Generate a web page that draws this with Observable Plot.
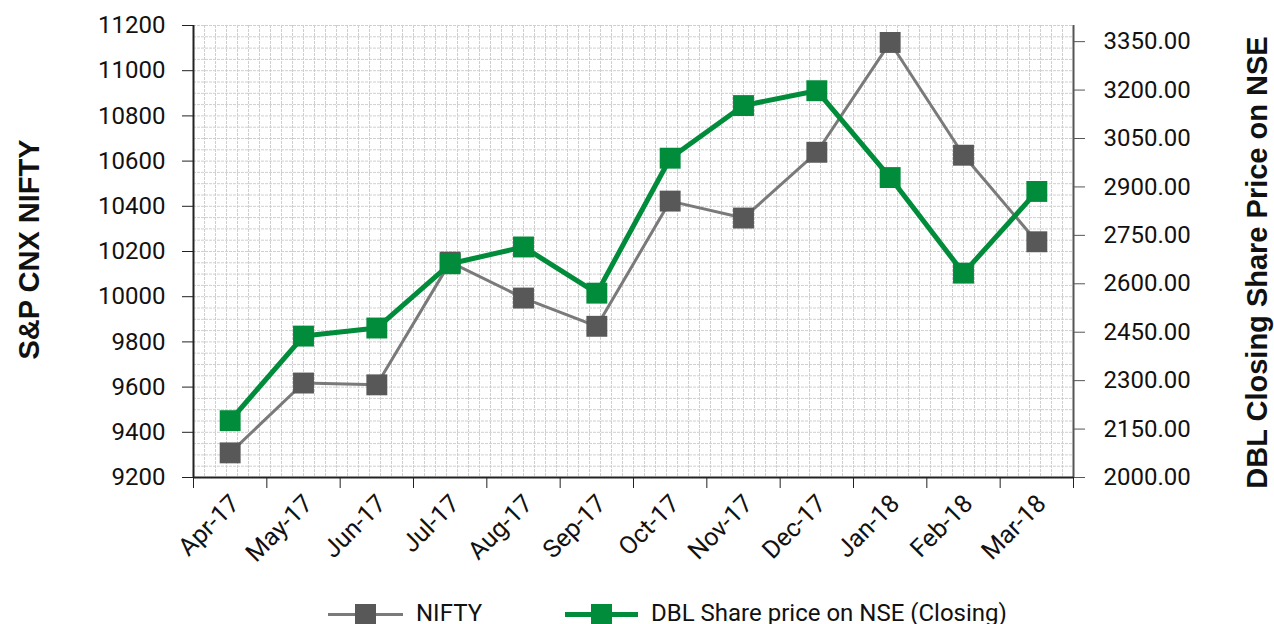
<!DOCTYPE html>
<html><head><meta charset="utf-8">
<script src="https://cdn.jsdelivr.net/npm/d3@7"></script>
<script src="https://cdn.jsdelivr.net/npm/@observablehq/plot@0.6"></script>
<style>
body{margin:0;background:#fff;font-family:Roboto,sans-serif;}
#wrap{width:1274px;height:624px;position:relative;overflow:hidden;}
#legend{position:relative;height:34px;font-size:24px;color:#111;}
.item{position:absolute;top:0;height:34px;}
.item svg{position:absolute;top:0;left:0;}
.item span{position:absolute;top:9px;line-height:28px;white-space:nowrap;}
</style></head>
<body><div id="wrap"><div id="chart"></div><div id="legend"></div></div>
<script>
const months = ["Apr-17","May-17","Jun-17","Jul-17","Aug-17","Sep-17","Oct-17","Nov-17","Dec-17","Jan-18","Feb-18","Mar-18"];
const nifty = [9309,9618,9610,10153,9994,9869,10423,10348,10639,11125,10626,10243];
const dbl = [2176,2438,2463,2662,2714,2571,2989,3152,3198,2929,2633,2886];
const niftyTicks = [9200,9400,9600,9800,10000,10200,10400,10600,10800,11000,11200];
const dblTicks = [2000,2150,2300,2450,2600,2750,2900,3050,3200,3350];
const seriesNames = ["NIFTY","DBL Share price on NSE (Closing)"];
const seriesColors = ["#585858","#008C3A"];
const lineColors = ["#7a7a7a","#008C3A"];

const niftyDomain = [9200, 11200];
const dblDomain = [2000, 3400];
const toLeft = v => niftyDomain[0] + (v - dblDomain[0]) * (niftyDomain[1]-niftyDomain[0])/(dblDomain[1]-dblDomain[0]);
const fromLeft = v => dblDomain[0] + (v - niftyDomain[0]) * (dblDomain[1]-dblDomain[0])/(niftyDomain[1]-niftyDomain[0]);

const niftyData = months.map((m,i)=>({x:i+0.5, y:nifty[i]}));
const dblData = months.map((m,i)=>({x:i+0.5, y:toLeft(dbl[i])}));

const gridXTicks = d3.range(0,81).map(i=>i*0.15);
const gridYTicks = d3.range(9200, 11201, 50);

const plot = Plot.plot({
  width: 1274, height: 590,
  marginLeft: 193, marginRight: 201, marginTop: 25, marginBottom: 113,
  style: {fontFamily: "Roboto, sans-serif", fontSize: "24px", color: "#111", background: "#fff"},
  x: {type: "linear", domain: [0, 12]},
  y: {domain: niftyDomain},
  marks: [
    Plot.gridX(gridXTicks, {stroke: "#cfcfcf", strokeOpacity: 1, strokeDasharray: "3,1"}),
    Plot.gridY(gridYTicks, {stroke: "#cfcfcf", strokeOpacity: 1, strokeDasharray: "3,1"}),
    Plot.axisY(niftyTicks, {anchor: "left", tickSize: 11, tickPadding: 17, label: null, stroke: "#222", fill: "#111", fontSize: 24,
      tickFormat: d => String(d)}),
    Plot.axisY(dblTicks.map(toLeft), {anchor: "right", tickSize: 11, tickPadding: 19, label: null, stroke: "#555", fill: "#111", fontSize: 24,
      tickFormat: d => Math.round(fromLeft(d)).toFixed(2)}),
    Plot.axisX(d3.range(0,13), {anchor: "bottom", tickSize: 11, tickFormat: () => "", label: null, stroke: "#222"}),
    Plot.axisX(months.map((m,i)=>i+0.5), {anchor: "bottom", tickSize: 0, tickPadding: 22, dx: 5, tickRotate: -45, label: null, fill: "#111", fontSize: 25,
      tickFormat: d => months[Math.round(d-0.5)]}),
    Plot.ruleX([0], {stroke: "#222", strokeWidth: 2}),
    Plot.ruleX([12], {stroke: "#555", strokeWidth: 2}),
    Plot.ruleY([niftyDomain[0]], {stroke: "#222", strokeWidth: 2}),
    Plot.line(niftyData, {x: "x", y: "y", stroke: lineColors[0], strokeWidth: 3}),
    Plot.dot(niftyData, {x: "x", y: "y", symbol: "square", r: 11.8, fill: seriesColors[0], stroke: "none"}),
    Plot.line(dblData, {x: "x", y: "y", stroke: lineColors[1], strokeWidth: 5}),
    Plot.dot(dblData, {x: "x", y: "y", symbol: "square", r: 11.8, fill: seriesColors[1], stroke: "none"}),
    Plot.text(["S&P CNX NIFTY"], {frameAnchor: "left", textAnchor: "middle", lineAnchor: "middle", dx: -164, dy: -2, rotate: -90, fontSize: 29, fontWeight: "bold", fontFamily: "Liberation Sans, Arial, sans-serif", fill: "#111"}),
    Plot.text(["DBL Closing Share Price on NSE"], {frameAnchor: "right", textAnchor: "middle", lineAnchor: "middle", dx: 184, dy: 11, rotate: -90, fontSize: 29, fontWeight: "bold", fontFamily: "Liberation Sans, Arial, sans-serif", fill: "#111"})
  ]
});
document.getElementById("chart").appendChild(plot);

// legend
const legend = document.getElementById("legend");
const legendPos = [{line:[328,403], text:416}, {line:[565,638], text:651}];
seriesNames.forEach((name,i)=>{
  const p = legendPos[i];
  const el = document.createElement("div");
  el.className = "item";
  el.style.left = p.line[0] + "px";
  const w = p.line[1]-p.line[0];
  const cx = w/2;
  el.innerHTML = `<svg width="${w}" height="34"><line x1="0" x2="${w}" y1="24.5" y2="24.5" stroke="${lineColors[i]}" stroke-width="${i?5:3}"/><rect x="${cx-10.5}" y="14" width="21" height="21" fill="${seriesColors[i]}"/></svg><span style="left:${p.text-p.line[0]}px">${name}</span>`;
  legend.appendChild(el);
});
</script>
</body></html>
